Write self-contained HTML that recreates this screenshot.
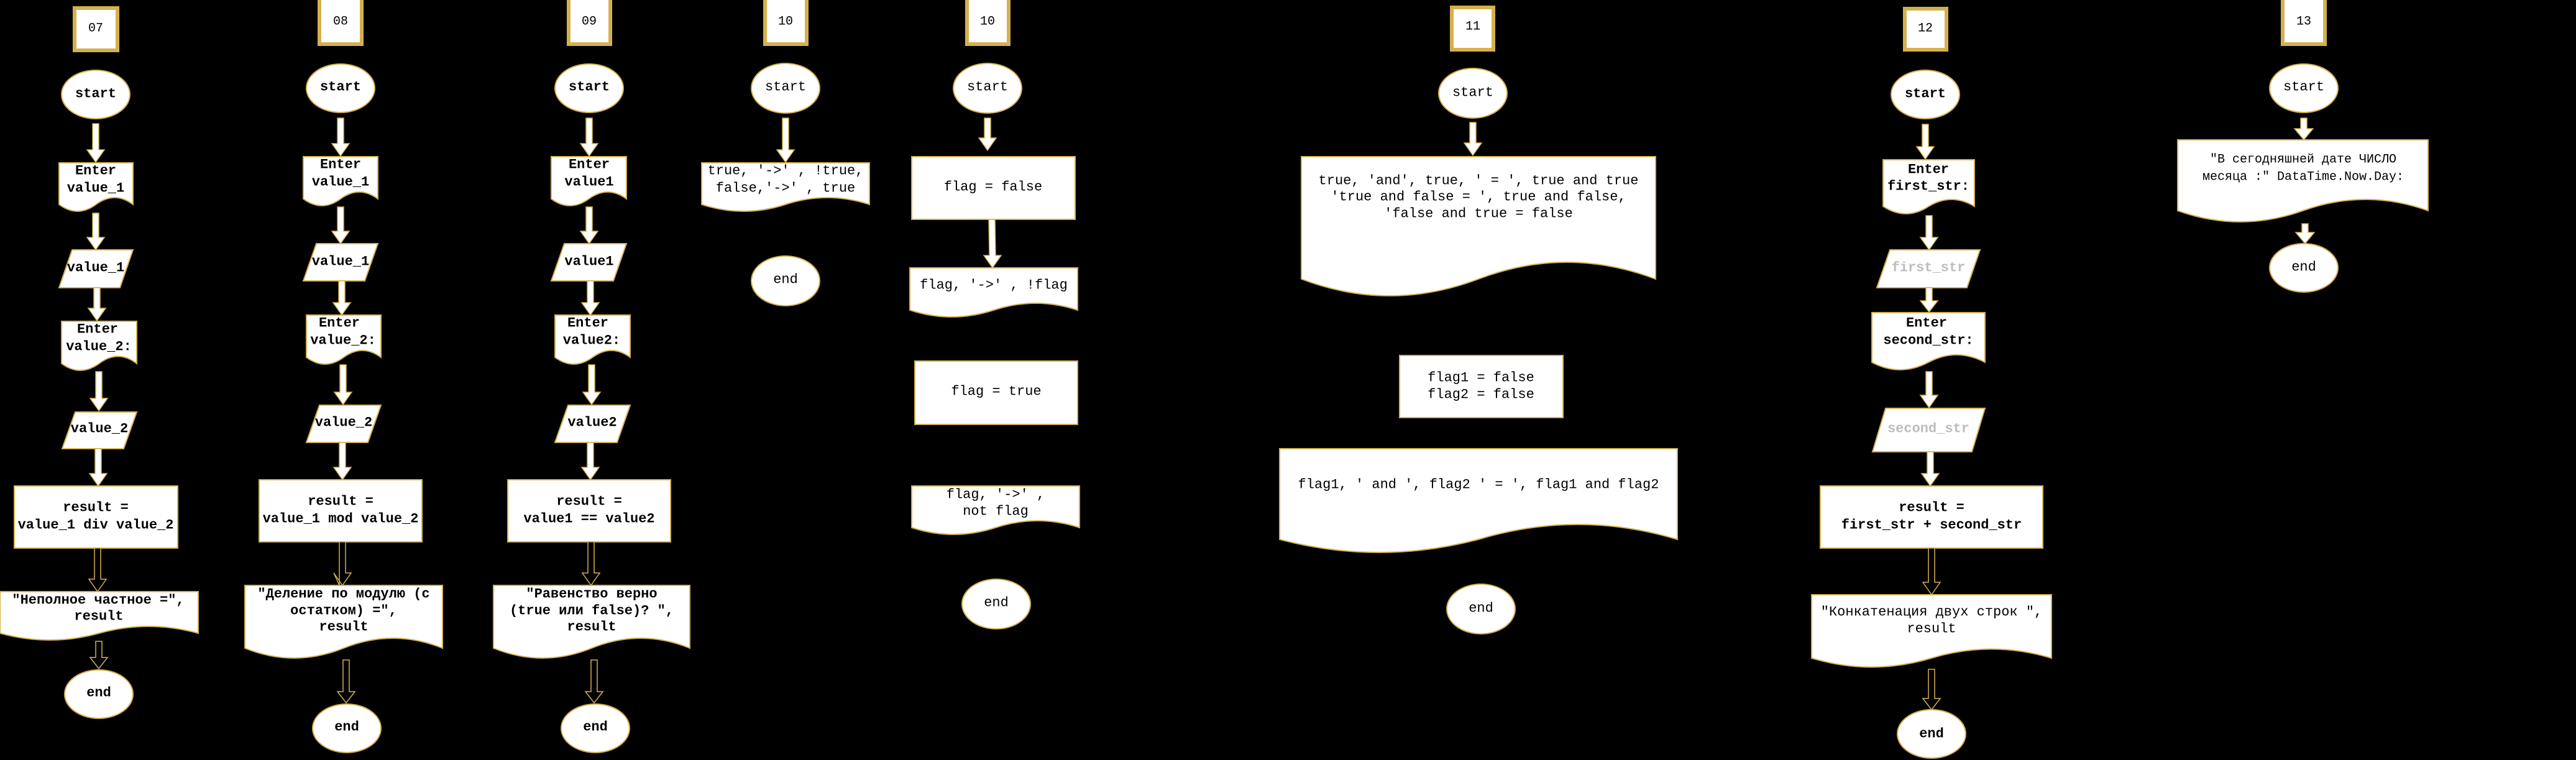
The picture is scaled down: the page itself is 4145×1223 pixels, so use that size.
<!DOCTYPE html>
<html><head><meta charset="utf-8"><style>
html,body{margin:0;padding:0;background:#000;}
svg{display:block;}
text{font-family:"Liberation Mono","Noto Sans CJK SC",monospace;font-size:22px;fill:#000;text-anchor:middle;dominant-baseline:central;}
.b{font-weight:bold;}
.g{fill:#bdbdbd;font-weight:bold;}
.s{fill:#fff;stroke:#d4b14f;stroke-width:2;}
.lb{fill:#fff;stroke:#d4b14f;stroke-width:6;}
.ar{fill:#fff;stroke:#d4b14f;stroke-width:1.5;}
.ho{fill:#000;stroke:#d4b14f;stroke-width:1.5;}
</style></head><body>
<svg width="4145" height="1223" viewBox="0 0 4145 1223" xmlns="http://www.w3.org/2000/svg">
<rect width="4145" height="1223" fill="#000"/>

<!-- ===== 07 ===== -->
<rect class="lb" x="120" y="13" width="69" height="68"/><text x="154" y="46" style="font-size:20px">07</text>
<ellipse class="s" cx="154" cy="152" rx="55" ry="39"/><text class="b" x="154" y="151">start</text>
<polygon class="ar" points="149,199 159,199 159,241 168,241 154,261 140,241 149,241"/>
<path class="s" d="M95 262 H214 V329 Q184.75 307 154.5 329 Q124.75 351 95 329 Z"/>
<text class="b" x="154" y="275">Enter</text><text class="b" x="154" y="303">value_1</text>
<polygon class="ar" points="149,343 159,343 159,382 168,382 154,402 140,382 149,382"/>
<polygon class="s" points="116,402 214,402 193,463 95,463"/><text class="b" x="154" y="431">value_1</text>
<polygon class="ar" points="151,463 161,463 161,496 170,496 156,516 142,496 151,496"/>
<path class="s" d="M99 517 H220 V585 Q190 562 159.5 585 Q129 607 99 585 Z"/>
<text class="b" x="157" y="530">Enter</text><text class="b" x="159" y="558">value_2:</text>
<polygon class="ar" points="154,598 164,598 164,641 173,641 159,661 145,641 154,641"/>
<polygon class="s" points="121,663 220,663 199,722 100,722"/><text class="b" x="160" y="690">value_2</text>
<polygon class="ar" points="153,722 163,722 163,762 172,762 158,782 144,762 153,762"/>
<rect class="s" x="23" y="782" width="263" height="100"/>
<text class="b" x="154" y="817">result =</text><text class="b" x="154" y="845">value_1 div value_2</text>
<polygon class="ho" points="152,882 162,882 162,932 171,932 157,952 143,932 152,932"/>
<path class="s" d="M0 952 H319 V1019 Q239 997 159.5 1019 Q80 1041 0 1019 Z"/>
<text class="b" x="158" y="966">"Неполное частное =",</text><text class="b" x="159" y="992">result</text>
<polygon class="ho" points="154,1032 164,1032 164,1058 173,1058 159,1076 145,1058 154,1058"/>
<ellipse class="s" cx="159" cy="1117" rx="55" ry="39"/><text class="b" x="159" y="1115">end</text>

<!-- ===== 08 ===== -->
<rect class="lb" x="514" y="-3" width="68" height="74"/><text x="548" y="35" style="font-size:20px">08</text>
<ellipse class="s" cx="548" cy="142" rx="55" ry="39"/><text class="b" x="548" y="140">start</text>
<polygon class="ar" points="543,190 553,190 553,231 562,231 548,251 534,231 543,231"/>
<path class="s" d="M488 252 H608 V320 Q578 298 548 320 Q518 342 488 320 Z"/>
<text class="b" x="548" y="265">Enter</text><text class="b" x="548" y="293">value_1</text>
<polygon class="ar" points="543,333 553,333 553,372 562,372 548,392 534,372 543,372"/>
<polygon class="s" points="509,392 608,392 587,452 488,452"/><text class="b" x="548" y="421">value_1</text>
<polygon class="ar" points="545,452 555,452 555,487 564,487 550,507 536,487 545,487"/>
<path class="s" d="M493 507 H613 V575 Q583 553 553 575 Q523 597 493 575 Z"/>
<text class="b" x="546" y="520">Enter</text><text class="b" x="552" y="548">value_2:</text>
<polygon class="ar" points="547,587 557,587 557,631 566,631 552,651 538,631 547,631"/>
<polygon class="s" points="514,652 613,652 592,712 493,712"/><text class="b" x="553" y="680">value_2</text>
<polygon class="ar" points="546,712 556,712 556,752 565,752 551,772 537,752 546,752"/>
<rect class="s" x="417" y="772" width="262" height="100"/>
<text class="b" x="548" y="807">result =</text><text class="b" x="548" y="835">value_1 mod value_2</text>
<polygon class="ho" points="546,872 556,872 556,922 565,922 551,942 537,922 546,942"/>
<path class="s" d="M394 942 H712 V1043 Q632 1011 553 1043 Q473 1075 394 1043 Z"/>
<text class="b" x="553" y="956">"Деление по модулю (с</text><text class="b" x="553" y="983">остатком) =",</text><text class="b" x="553" y="1009">result</text>
<polygon class="ho" points="552,1062 562,1062 562,1113 571,1113 557,1131 543,1113 552,1113"/>
<ellipse class="s" cx="558" cy="1172" rx="55" ry="39"/><text class="b" x="558" y="1170">end</text>

<!-- ===== 09 ===== -->
<rect class="lb" x="915" y="-3" width="67" height="74"/><text x="948" y="35" style="font-size:20px">09</text>
<ellipse class="s" cx="948" cy="142" rx="55" ry="39"/><text class="b" x="948" y="140">start</text>
<polygon class="ar" points="943,190 953,190 953,231 962,231 948,251 934,231 943,231"/>
<path class="s" d="M887 252 H1008 V320 Q978 298 947.5 320 Q917 342 887 320 Z"/>
<text class="b" x="948" y="265">Enter</text><text class="b" x="948" y="293">value1</text>
<polygon class="ar" points="943,333 953,333 953,372 962,372 948,392 934,372 943,372"/>
<polygon class="s" points="908,392 1008,392 987,452 887,452"/><text class="b" x="948" y="421">value1</text>
<polygon class="ar" points="945,452 955,452 955,487 964,487 950,507 936,487 945,487"/>
<path class="s" d="M893 507 H1014 V575 Q984 553 953.5 575 Q923 597 893 575 Z"/>
<text class="b" x="946" y="520">Enter</text><text class="b" x="952" y="548">value2:</text>
<polygon class="ar" points="947,587 957,587 957,631 966,631 952,651 938,631 947,631"/>
<polygon class="s" points="914,652 1014,652 993,712 893,712"/><text class="b" x="953" y="680">value2</text>
<polygon class="ar" points="945,712 955,712 955,752 964,752 950,772 936,752 945,752"/>
<rect class="s" x="817" y="772" width="262" height="100"/>
<text class="b" x="948" y="807">result =</text><text class="b" x="948" y="835">value1 == value2</text>
<polygon class="ho" points="946,872 956,872 956,922 965,922 951,942 937,922 946,922"/>
<path class="s" d="M794 942 H1110 V1043 Q1031 1011 952 1043 Q873 1075 794 1043 Z"/>
<text class="b" x="952" y="956">"Равенство верно</text><text class="b" x="952" y="983">(true или false)? ",</text><text class="b" x="952" y="1009">result</text>
<polygon class="ho" points="951,1062 961,1062 961,1113 970,1113 956,1131 942,1113 951,1113"/>
<ellipse class="s" cx="958" cy="1172" rx="55" ry="39"/><text class="b" x="958" y="1170">end</text>

<!-- ===== 10a ===== -->
<rect class="lb" x="1231" y="-3" width="67" height="74"/><text x="1264" y="35" style="font-size:20px">10</text>
<ellipse class="s" cx="1264" cy="142" rx="55" ry="40"/><text x="1264" y="140">start</text>
<polygon class="ar" points="1259,190 1269,190 1269,241 1278,241 1264,261 1250,241 1259,241"/>
<path class="s" d="M1129 262 H1399 V329 Q1331 307 1264 329 Q1196 351 1129 329 Z"/>
<text x="1264" y="275">true, '-&gt;' , !true,</text><text x="1264" y="303">false,'-&gt;' , true</text>
<ellipse class="s" cx="1264" cy="452" rx="55" ry="40"/><text x="1264" y="450">end</text>

<!-- ===== 10b ===== -->
<rect class="lb" x="1556" y="-3" width="67" height="74"/><text x="1589" y="35" style="font-size:20px">10</text>
<ellipse class="s" cx="1589" cy="142" rx="55" ry="40"/><text x="1589" y="140">start</text>
<polygon class="ar" points="1584,190 1594,190 1594,222 1603,222 1589,242 1575,222 1584,222"/>
<rect class="s" x="1467" y="252" width="263" height="101"/><text x="1598" y="301">flag = false</text>
<polygon class="ar" points="1591,353 1601,353 1602,411 1611,411 1597,431 1583,411 1592,411"/>
<path class="s" d="M1464 431 H1734 V499 Q1666 477 1599 499 Q1531 521 1464 499 Z"/>
<text x="1599" y="459">flag, '-&gt;' , !flag</text>
<rect class="s" x="1472" y="581" width="262" height="102"/><text x="1603" y="630">flag = true</text>
<path class="s" d="M1467 782 H1737 V849 Q1669 827 1602 849 Q1534 871 1467 849 Z"/>
<text x="1602" y="796">flag, '-&gt;' ,</text><text x="1602" y="823">not flag</text>
<ellipse class="s" cx="1603" cy="972" rx="55" ry="40"/><text x="1603" y="970">end</text>

<!-- ===== 11 ===== -->
<rect class="lb" x="2336" y="12" width="67" height="68"/><text x="2370" y="43" style="font-size:20px">11</text>
<ellipse class="s" cx="2370" cy="150" rx="55" ry="40"/><text x="2370" y="149">start</text>
<polygon class="ar" points="2365,197 2375,197 2375,230 2384,230 2370,250 2356,230 2365,230"/>
<path class="s" d="M2094 252 H2664 V449 Q2521 395 2379 449 Q2236 503 2094 449 Z"/>
<text x="2379" y="291">true, 'and', true, ' = ', true and true</text>
<text x="2379" y="317">'true and false = ', true and false,</text>
<text x="2379" y="344">'false and true = false</text>
<rect class="s" x="2252" y="572" width="263" height="100"/>
<text x="2383" y="608">flag1 = false</text><text x="2383" y="635">flag2 = false</text>
<path class="s" d="M2059 722 H2699 V868 Q2539 820 2379 868 Q2219 910 2059 868 Z"/>
<text x="2379" y="780">flag1, ' and ', flag2 ' = ', flag1 and flag2</text>
<ellipse class="s" cx="2383" cy="980" rx="55" ry="40"/><text x="2383" y="979">end</text>

<!-- ===== 12 ===== -->
<rect class="lb" x="3065" y="14" width="67" height="66"/><text x="3098" y="46" style="font-size:20px">12</text>
<ellipse class="s" cx="3098" cy="152" rx="55" ry="39"/><text class="b" x="3098" y="151">start</text>
<polygon class="ar" points="3093,200 3103,200 3103,236 3112,236 3098,256 3084,236 3093,236"/>
<path class="s" d="M3030 257 H3177 V332 Q3140 310 3103.5 332 Q3067 356 3030 332 Z"/>
<text class="b" x="3103" y="273">Enter</text><text class="b" x="3103" y="300">first_str:</text>
<polygon class="ar" points="3099,347 3109,347 3109,382 3118,382 3104,402 3090,382 3099,382"/>
<polygon class="s" points="3041,402 3186,402 3165,463 3020,463"/><text class="g" x="3103" y="431">first_str</text>
<polygon class="ar" points="3099,463 3109,463 3109,484 3118,484 3104,502 3090,484 3099,484"/>
<path class="s" d="M3012 503 H3194 V583 Q3148 559 3103 583 Q3057 607 3012 583 Z"/>
<text class="b" x="3100" y="520">Enter</text><text class="b" x="3103" y="548">second_str:</text>
<polygon class="ar" points="3099,598 3109,598 3109,636 3118,636 3104,656 3090,636 3099,636"/>
<polygon class="s" points="3034,657 3194,657 3173,727 3013,727"/><text class="g" x="3103" y="690">second_str</text>
<polygon class="ar" points="3101,727 3111,727 3111,762 3120,762 3106,782 3092,762 3101,762"/>
<rect class="s" x="2929" y="782" width="358" height="100"/>
<text class="b" x="3108" y="817">result =</text><text class="b" x="3108" y="845">first_str + second_str</text>
<polygon class="ho" points="3103,882 3113,882 3113,937 3122,937 3108,957 3094,937 3103,937"/>
<path class="s" d="M2915 957 H3301 V1059 Q3204 1030 3108 1059 Q3011 1088 2915 1059 Z"/>
<text x="3108" y="985">"Конкатенация двух строк ",</text><text x="3108" y="1012">result</text>
<polygon class="ho" points="3103,1077 3113,1077 3113,1124 3122,1124 3108,1142 3094,1124 3103,1124"/>
<ellipse class="s" cx="3108" cy="1181" rx="55" ry="39"/><text class="b" x="3108" y="1181">end</text>

<!-- ===== 13 ===== -->
<rect class="lb" x="3673" y="-3" width="68" height="74"/><text x="3707" y="35" style="font-size:20px">13</text>
<ellipse class="s" cx="3707" cy="142" rx="55" ry="39"/><text x="3707" y="140">start</text>
<polygon class="ar" points="3702,190 3712,190 3712,207 3722,207 3707,225 3692,207 3702,207"/>
<path class="s" d="M3504 225 H3907 V339 Q3806 303 3705.5 339 Q3605 375 3504 339 Z"/>
<text x="3706" y="257" style="font-size:20px">"В сегодняшней дате ЧИСЛО</text>
<text x="3706" y="285" style="font-size:20px">месяца :" DataTime.Now.Day:</text>
<polygon class="ar" points="3704,360 3714,360 3714,374 3724,374 3709,392 3694,374 3704,374"/>
<ellipse class="s" cx="3707" cy="431" rx="55" ry="39"/><text x="3707" y="430">end</text>
</svg>
</body></html>
